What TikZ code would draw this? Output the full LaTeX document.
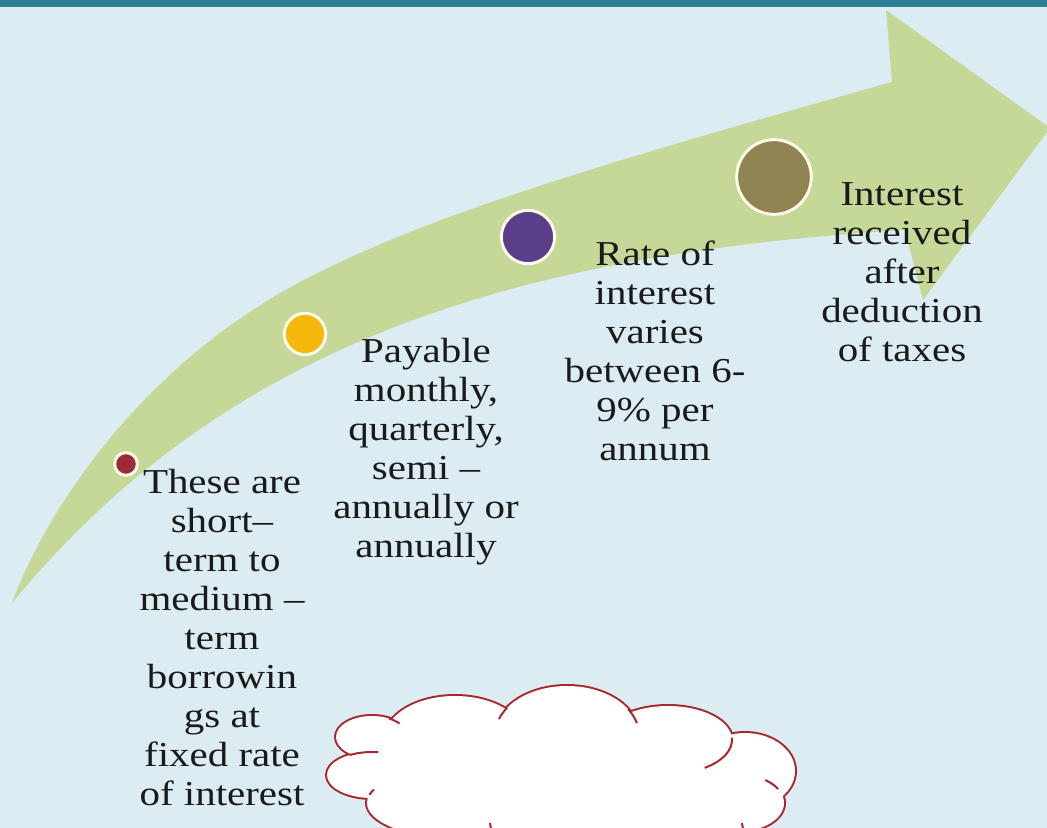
\documentclass[tikz,border=0pt]{standalone}
\usepackage{fontspec}
\setmainfont{Liberation Serif}[FakeStretch=1.17]

\definecolor{sky}{HTML}{DBECF3}
\definecolor{band}{HTML}{2F7F96}
\definecolor{leaf}{HTML}{C5D898}
\definecolor{ring}{HTML}{FFFBEA}
\definecolor{wine}{HTML}{9E2A37}
\definecolor{gold}{HTML}{F6B80C}
\definecolor{plum}{HTML}{5A3E89}
\definecolor{olive}{HTML}{8F8452}
\definecolor{puff}{HTML}{A8282C}
\definecolor{ink}{HTML}{1A1A1A}

\begin{document}
\begin{tikzpicture}[x=0.75pt, y=-0.75pt,
  blurb/.style={align=center, inner sep=0pt, text=ink,
    font=\fontsize{26.25pt}{29.25pt}\selectfont},
  bead/.style={circle, inner sep=0pt, draw=ring, line width=2.2pt},
  puffline/.style={puff, line width=1.5pt}]
  % --- kagit: 1047 x 828 px, y asagi ---
  \useasboundingbox (0,0) rectangle (1047,828);
  \clip (0,0) rectangle (1047,828);
  \fill[sky] (0,0) rectangle (1047,828);
  \fill[band] (0,0) rectangle (1047,7);

  % ---- 1) kavisli yesil ok ----
  \fill[leaf] (12,603) .. controls (50,500) and (150,360) .. (304,280)
    .. controls (420,220) and (560,175) .. (892,82)
    -- (886,10) -- (1050,128) -- (923,300) -- (905,230)
    .. controls (500,255) and (220,350) .. (12,603) -- cycle;

  % ---- 2) ok uzerindeki boncuklar ----
  \node[bead, fill=wine, minimum size=17pt] (b1) at (126,464) {};
  \node[bead, fill=gold, minimum size=31pt] (b2) at (305,334) {};
  \node[bead, fill=plum, minimum size=40pt] (b3) at (528,237) {};
  \node[bead, fill=olive, minimum size=56pt] (b4) at (774,177) {};

  % ---- 3) aciklamalar ----
  \node[blurb] (t1) at (222,638)
    {These are\\short--\\term to\\medium --\\term\\borrowin\\gs at\\fixed rate\\of interest};
  \node[blurb] (t2) at (426,452)
    {Payable\\monthly,\\quarterly,\\semi --\\annually or\\annually};
  \node[blurb] (t3) at (655,351)
    {Rate of\\interest\\varies\\between 6-\\9\% per\\annum};
  \node[blurb] (t4) at (902,272)
    {Interest\\received\\after\\deduction\\of taxes};

  % ---- 4) bulut: once kalin kontur, sonra beyaz dolgu, sonra ic kuyruklar ----
  \def\lobes{372/737/36/21, 372/775/45/23, 462/803/95/36, 455/738/70/42,
    567/735/72/49, 668/740/64/34, 745/771/50/38, 740/803/44/28, 600/810/140/70}
  \foreach \cx/\cy/\rx/\ry in \lobes
    \draw[puff, line width=3pt] (\cx,\cy) ellipse [x radius=\rx, y radius=\ry];
  \foreach \cx/\cy/\rx/\ry in \lobes
    \fill[white] (\cx,\cy) ellipse [x radius=\rx, y radius=\ry];
  \foreach \cx/\cy/\rx/\ry/\a/\b in {372/737/36/21/-62/-40, 567/735/72/49/214/199,
      567/735/72/49/-32/-14, 668/740/64/34/-4/55, 740/803/44/28/-55/-30,
      372/775/45/23/-82/-120, 462/803/95/36/193/202}
    \draw[puffline] (\cx,\cy) ++({\rx*cos(\a)},{\ry*sin(\a)})
      arc[start angle=\a, end angle=\b, x radius=\rx, y radius=\ry];
  \draw[puffline] (490,823) -- (491,829);
  \draw[puffline] (742,823) -- (743,829);
\end{tikzpicture}
\end{document}
